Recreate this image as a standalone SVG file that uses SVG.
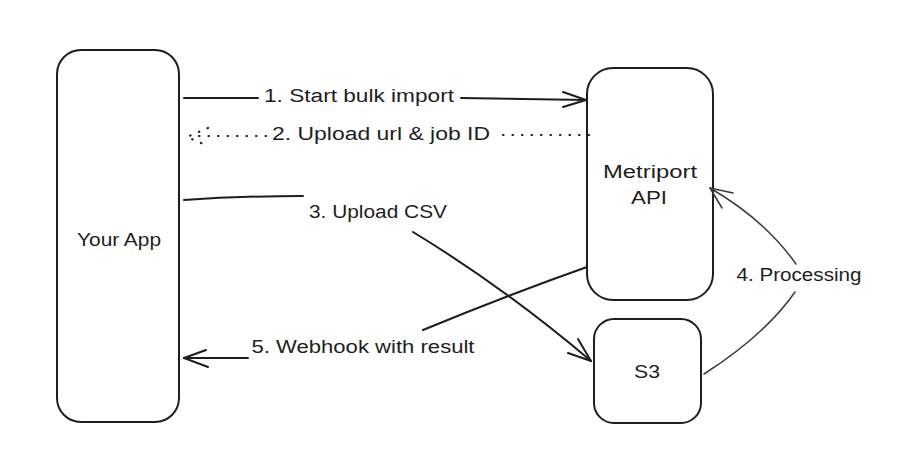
<svg xmlns="http://www.w3.org/2000/svg" width="900" height="476" viewBox="0 0 900 476">
<defs>
<style>
.box{fill:#ffffff;stroke:#1e1e1e;stroke-width:2}
.lbl{font-family:"Liberation Sans","DejaVu Sans",sans-serif;font-size:18px;fill:#1e1e1e;text-anchor:middle;dominant-baseline:central}
.ln{fill:none;stroke:#1e1e1e;stroke-width:2;stroke-linecap:round;stroke-linejoin:round}
.dot{fill:none;stroke:#1e1e1e;stroke-width:2.2;stroke-linecap:round;stroke-dasharray:0.5 9}
.thin{fill:none;stroke:#3a3a3a;stroke-width:1.5;stroke-linecap:round;stroke-linejoin:round}
</style>
</defs>
<rect width="900" height="476" fill="#ffffff"/>
<g id="your-app">
<rect class="box" x="57" y="50" width="122" height="372" rx="24"/>
<text class="lbl" x="119" y="240" textLength="84" lengthAdjust="spacingAndGlyphs">Your App</text>
</g>
<g id="metriport-api">
<rect class="box" x="587" y="68" width="126" height="232" rx="26"/>
<text class="lbl" x="650" y="172" textLength="94" lengthAdjust="spacingAndGlyphs">Metriport</text>
<text class="lbl" x="649" y="198" textLength="36" lengthAdjust="spacingAndGlyphs">API</text>
</g>
<g id="s3">
<rect class="box" x="594" y="319" width="107" height="104" rx="20"/>
<text class="lbl" x="647" y="372" textLength="26" lengthAdjust="spacingAndGlyphs">S3</text>
</g>
<g id="connectors">
<g id="c1">
<path class="ln" d="M184 98 L258 98"/>
<path class="ln" d="M461 98 L586 100"/>
<path class="ln" d="M563 92 L586 100 L563 107"/>
<text class="lbl" x="359" y="96" textLength="190" lengthAdjust="spacingAndGlyphs">1. Start bulk import</text>
</g>
<g id="c2">
<path class="dot" d="M589 135 L497 135"/>
<path class="dot" d="M266 136 L190 136"/>
<path class="dot" d="M208 128 L187 137 L208 146"/>
<text class="lbl" x="381" y="134" textLength="218" lengthAdjust="spacingAndGlyphs">2. Upload url &amp; job ID</text>
</g>
<g id="c3">
<path class="ln" d="M184 200 Q240 196 303 196"/>
<path class="ln" d="M413 232 Q505 288 591 361"/>
<path class="ln" d="M568 353 L591 361 L578 339"/>
<text class="lbl" x="378" y="212" textLength="138" lengthAdjust="spacingAndGlyphs">3. Upload CSV</text>
</g>
<g id="c4">
<path class="thin" d="M704 374 Q765 335 795 292"/>
<path class="thin" d="M796 264 Q765 220 710 188"/>
<path class="thin" d="M733 193 L710 188 L722 208"/>
<text class="lbl" x="799" y="275" textLength="125" lengthAdjust="spacingAndGlyphs">4. Processing</text>
</g>
<g id="c5">
<path class="ln" d="M587 267 Q505 296 423 330"/>
<path class="ln" d="M248 358 L184 358"/>
<path class="ln" d="M206 350 L184 358 L208 367"/>
<text class="lbl" x="363" y="347" textLength="223" lengthAdjust="spacingAndGlyphs">5. Webhook with result</text>
</g>
</g>
</svg>
